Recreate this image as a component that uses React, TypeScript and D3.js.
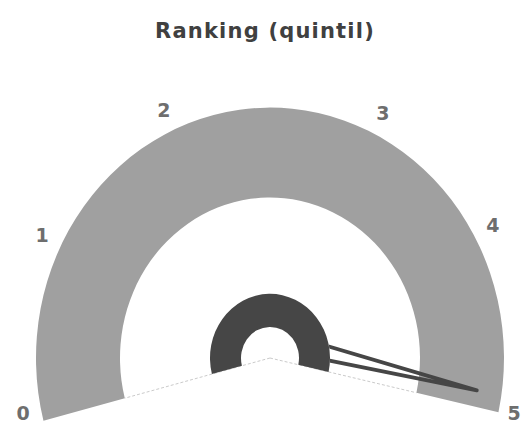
import React from 'react';
import * as d3 from 'd3';

// ---- data ----
const title = 'Ranking (quintil)';
const tickValues = [0, 1, 2, 3, 4, 5];
const tickLabels = ['0', '1', '2', '3', '4', '5'];
// angle (degrees, 0 = top, clockwise) of each tick on the gauge axis
const tickAngles = [-104.5, -63.3, -24.6, 26.3, 60.9, 102.5];
const needleValues = [4.9];

export default function App() {
  const W = 524;
  const H = 429;
  const cx = 270;
  const cy = 358;
  const sy = 1.07;
  const bandInner = 150;
  const bandOuter = 234;
  const hubInner = 29;
  const hubOuter = 60;
  const labelR = 255;
  const needleR = 209;
  const labelSize = 19;

  const angle = d3.scaleLinear().domain(tickValues).range(tickAngles);
  const rad = (d: number) => (d * Math.PI) / 180;
  const pt = (a: number, r: number): [number, number] => [
    cx + r * Math.sin(rad(a)),
    cy - sy * r * Math.cos(rad(a)),
  ];
  const a0 = angle(tickValues[0]);
  const a1 = angle(tickValues[tickValues.length - 1]);

  const band = d3.arc()({
    innerRadius: bandInner,
    outerRadius: bandOuter,
    startAngle: rad(a0),
    endAngle: rad(a1),
  } as any) as string;
  const hub = d3.arc()({
    innerRadius: hubInner,
    outerRadius: hubOuter,
    startAngle: rad(a0),
    endAngle: rad(a1),
  } as any) as string;

  // needle
  const na = angle(needleValues[0]);
  const tip = pt(na, needleR);
  const pivot: [number, number] = [cx, cy - 19];
  const dx = tip[0] - pivot[0];
  const dy = tip[1] - pivot[1];
  const len = Math.hypot(dx, dy);
  const px = -dy / len;
  const py = dx / len;
  const hw = 9.5;
  const b1: [number, number] = [pivot[0] + px * hw, pivot[1] + py * hw];
  const b2: [number, number] = [pivot[0] - px * hw, pivot[1] - py * hw];
  const needlePath = d3.line()([b1, tip, b2]) as string;

  const lineL = [pt(a0, 0), pt(a0, bandInner)];
  const lineR = [pt(a1, 0), pt(a1, bandInner)];

  return (
    <svg
      width={W}
      height={H}
      style={{ position: 'absolute', left: 0, top: 0, background: '#fff' }}
    >
      <defs>
        <mask id="needleMask">
          <rect x={0} y={0} width={W} height={H} fill="#fff" />
          <ellipse cx={cx} cy={cy} rx={hubOuter} ry={hubOuter * sy} fill="#000" />
        </mask>
      </defs>
      <text
        x={265}
        y={37.5}
        textAnchor="middle"
        fontFamily="'DejaVu Sans', sans-serif"
        fontWeight="bold"
        fontSize={21}
        letterSpacing={1.2}
        fill="#404040"
      >
        {title}
      </text>

      {[lineL, lineR].map((l, i) => (
        <line
          key={i}
          x1={l[0][0]}
          y1={l[0][1]}
          x2={l[1][0]}
          y2={l[1][1]}
          stroke="#c4c4c4"
          strokeWidth={0.9}
          strokeDasharray="3,2"
        />
      ))}

      <g transform={`translate(${cx},${cy}) scale(1,${sy})`}>
        <path d={band} fill="#a0a0a0" />
        <path d={hub} fill="#464646" />
      </g>

      <path
        d={needlePath}
        fill="none"
        stroke="#464646"
        strokeWidth={3.8}
        strokeLinejoin="round"
        strokeLinecap="round"
        mask="url(#needleMask)"
      />

      {tickValues.map((v, i) => {
        const p = pt(angle(v), labelR);
        const x = Math.min(Math.max(p[0], 10), W - 10);
        const y = Math.min(p[1], H - 9 - 0.36 * labelSize);
        return (
          <text
            key={v}
            x={x}
            y={y + 0.36 * labelSize}
            textAnchor="middle"
            fontFamily="'DejaVu Sans', sans-serif"
            fontWeight="bold"
            fontSize={labelSize}
            fill="#6e6e6e"
          >
            {tickLabels[i]}
          </text>
        );
      })}
    </svg>
  );
}
